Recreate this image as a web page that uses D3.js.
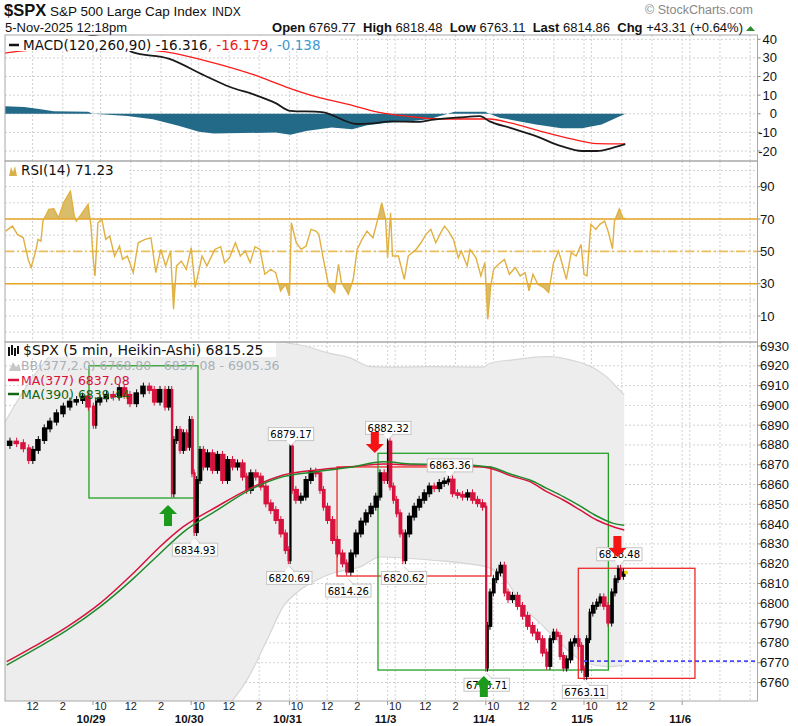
<!DOCTYPE html>
<html>
<head>
<meta charset="utf-8">
<script src="https://cdn.jsdelivr.net/npm/d3@7"></script>
<style>
body { margin: 0; background: #fff; }
svg { display: block; }
text { font-family: "Liberation Sans", Arial, sans-serif; }
.leg { font-family: "DejaVu Sans", Verdana, sans-serif; font-size: 13.5px; }
.pleg { font-family: "DejaVu Sans", Verdana, sans-serif; font-size: 12.5px; }
</style>
</head>
<body>
<script>
const width = 798;
const height = 726;
const plotLeft = 5;
const plotRight = 757.5;

// time is measured in trading days from the 10/29 open (1 day = 9:30-16:00)
const dayLabels = ['10/29', '10/30', '10/31', '11/3', '11/4', '11/5', '11/6'];
const hourTicks = [[0.0769, '10'], [0.3846, '12'], [0.6923, '2']];

const macdTicks = [40, 30, 20, 10, 0, -10, -20];
const rsiTicks = [90, 70, 50, 30, 10];
const priceTicks = d3.range(6760, 6931, 10);

// MACD(120,260,90): [time, value]
const macdLine = [[-0.9, 48], [0, 42], [0.3, 37], [0.4, 33.1], [0.77, 29.6], [1.13, 20.7], [1.39, 14.5],
    [1.65, 10.1], [1.86, 5.7], [2.01, 1.6], [2.33, 0.9], [2.69, -5.5], [2.84, -5.2], [3.05, -4.1],
    [3.31, -4.4], [3.47, -3.2], [3.73, -2.0], [3.94, -1.3], [4.04, -4.1], [4.25, -7.6], [4.51, -12],
    [4.77, -17.4], [4.98, -20], [5.13, -20], [5.29, -18.3], [5.42, -16.3]];
const signalLine = [[-0.9, 32.5], [-0.74, 33.6], [0, 36], [0.5, 34.5], [0.77, 33], [1.13, 28.7],
    [1.65, 20.7], [1.96, 14.5], [2.27, 9.2], [2.59, 5.2], [2.9, 0.9], [3.21, -1.4], [3.52, -2.8],
    [3.83, -2.8], [4.04, -2.8], [4.25, -4.9], [4.56, -9.4], [4.87, -13.5], [5.13, -16], [5.42, -16.2]];
const histValues = [[-0.9, 4.1], [-0.7, 3.6], [-0.55, 2.5], [-0.4, 1.4], [-0.05, 1.1], [0, 0], [0.35, -1.2],
    [0.61, -3.0], [0.87, -6.5], [1.08, -9.6], [1.23, -10.6], [1.86, -10.1], [2.01, -11.3], [2.17, -9.2],
    [2.43, -7.4], [2.64, -8.3], [2.79, -6.2], [3.0, -4.8], [3.21, -4.2], [3.42, -3.0], [3.57, -0.7],
    [3.68, 1.1], [3.99, 1.1], [4.04, 0], [4.14, -2.1], [4.51, -5.7], [4.77, -7.8], [4.98, -7.8],
    [5.18, -5.7], [5.42, 0]];

// RSI(14): [time, value]
const rsiValues = [[-0.89, 62.5], [-0.82, 65.6], [-0.77, 60.5], [-0.71, 58.4], [-0.66, 45], [-0.63, 40],
    [-0.58, 51], [-0.56, 57.4], [-0.53, 56.4], [-0.51, 68.7], [-0.45, 76], [-0.40, 76.3], [-0.35, 70.8],
    [-0.30, 80], [-0.23, 87.2], [-0.19, 71.8], [-0.17, 68.7], [-0.12, 72.8], [-0.05, 79], [-0.02, 65.6],
    [0.00, 47], [0.02, 34.8], [0.05, 67.7], [0.09, 69.8], [0.13, 57.4], [0.17, 59.5], [0.22, 47],
    [0.27, 53.3], [0.30, 45], [0.35, 47], [0.41, 36.8], [0.46, 55.3], [0.53, 57.4], [0.59, 58.4],
    [0.64, 36.8], [0.69, 51.2], [0.74, 41], [0.79, 50.2], [0.82, 14.2], [0.85, 41], [0.90, 44],
    [0.95, 38.9], [1.00, 52.3], [1.04, 27.6], [1.11, 47.1], [1.16, 41], [1.24, 51.2], [1.30, 52.9],
    [1.34, 43], [1.39, 46], [1.45, 55.3], [1.50, 47.1], [1.55, 50.2], [1.60, 43], [1.65, 52.9],
    [1.70, 51.2], [1.75, 35.8], [1.81, 38.9], [1.86, 36.8], [1.91, 25.5], [1.96, 29.6], [2.00, 22.4],
    [2.02, 67.7], [2.07, 55.3], [2.12, 51.2], [2.17, 53.3], [2.22, 63.6], [2.27, 62.5], [2.30, 60.5],
    [2.34, 47.1], [2.40, 28.6], [2.46, 24.5], [2.50, 42], [2.53, 30.7], [2.60, 23.5], [2.65, 32.7],
    [2.69, 51.2], [2.74, 57.4], [2.79, 62.5], [2.85, 58.4], [2.90, 69.8], [2.94, 80], [2.98, 69.8],
    [3.00, 46], [3.03, 73.9], [3.05, 47.1], [3.11, 47.1], [3.17, 32.7], [3.21, 47.1], [3.29, 51.2],
    [3.34, 55.3], [3.39, 60.5], [3.44, 63.6], [3.49, 55.3], [3.55, 62.5], [3.58, 65.6], [3.62, 62.5],
    [3.67, 57.4], [3.72, 46], [3.75, 50.2], [3.81, 41], [3.84, 51.2], [3.90, 46], [3.95, 34.8],
    [3.99, 43], [4.02, 8], [4.05, 28.6], [4.08, 38.9], [4.13, 42], [4.19, 45], [4.24, 35.8], [4.30, 40],
    [4.35, 34.8], [4.40, 36.8], [4.44, 25.5], [4.48, 35.8], [4.53, 29.6], [4.59, 27.6], [4.64, 24.5],
    [4.69, 43], [4.74, 50.2], [4.77, 44], [4.82, 32.7], [4.87, 49.2], [4.92, 47.1], [4.97, 54.3],
    [5.00, 35.8], [5.03, 34.8], [5.07, 66.7], [5.12, 63.6], [5.16, 66.7], [5.21, 68.7], [5.25, 61.5],
    [5.29, 51.6], [5.31, 68.7], [5.36, 76.3], [5.40, 70.2], [5.42, 70.6]];

// $SPX 5 min Heikin-Ashi closes: [time, close]
const priceBars = [[-0.879, 6880.0], [-0.812, 6881.7], [-0.743, 6880.9], [-0.675, 6878.3], [-0.634, 6872.4],
    [-0.591, 6877.5], [-0.522, 6882.5], [-0.471, 6888.4], [-0.404, 6891.8], [-0.336, 6896.0],
    [-0.268, 6899.4], [-0.201, 6901.9], [-0.132, 6902.7], [-0.081, 6904.4], [-0.013, 6899.4],
    [0.020, 6890.2], [0.038, 6901.9], [0.105, 6903.6], [0.173, 6905.3], [0.241, 6904.4], [0.292, 6908.7],
    [0.343, 6905.3], [0.410, 6901.1], [0.479, 6906.1], [0.547, 6909.5], [0.598, 6907.8], [0.649, 6901.9],
    [0.716, 6907.8], [0.751, 6899.4], [0.791, 6907.8], [0.812, 6855.6], [0.835, 6882.5], [0.869, 6887.6],
    [0.903, 6877.5], [0.937, 6885.9], [0.970, 6879.1], [0.995, 6892.6], [1.021, 6865.7], [1.039, 6836.0],
    [1.072, 6862.3], [1.107, 6877.5], [1.141, 6869.1], [1.191, 6875.8], [1.242, 6867.4], [1.293, 6875.0],
    [1.344, 6862.3], [1.395, 6872.4], [1.446, 6869.1], [1.497, 6870.7], [1.548, 6864.0], [1.581, 6857.3],
    [1.632, 6865.7], [1.683, 6864.0], [1.734, 6859.0], [1.785, 6850.5], [1.836, 6847.1], [1.887, 6842.1],
    [1.938, 6835.3], [1.979, 6826.9], [1.999, 6821.8], [2.016, 6879.2], [2.040, 6857.3], [2.091, 6852.3],
    [2.142, 6853.9], [2.192, 6862.3], [2.243, 6866.5], [2.294, 6865.7], [2.329, 6857.3], [2.363, 6848.8],
    [2.413, 6842.1], [2.464, 6832.0], [2.515, 6825.2], [2.566, 6820.2], [2.600, 6816.0], [2.651, 6825.2],
    [2.702, 6835.3], [2.753, 6841.3], [2.803, 6845.5], [2.854, 6848.8], [2.905, 6853.9], [2.940, 6865.7],
    [2.991, 6862.3], [3.007, 6881.7], [3.042, 6859.0], [3.075, 6852.3], [3.109, 6845.5], [3.144, 6835.3],
    [3.167, 6821.8], [3.195, 6835.3], [3.245, 6843.8], [3.296, 6848.8], [3.347, 6852.3], [3.398, 6855.6],
    [3.449, 6859.0], [3.500, 6858.2], [3.551, 6860.8], [3.602, 6861.6], [3.635, 6862.5], [3.686, 6855.6],
    [3.737, 6854.8], [3.788, 6853.9], [3.839, 6855.6], [3.890, 6852.3], [3.941, 6850.6], [3.992, 6848.8],
    [4.009, 6767.5], [4.025, 6788.6], [4.060, 6805.5], [4.094, 6812.2], [4.127, 6815.6], [4.172, 6819.0],
    [4.206, 6805.5], [4.246, 6802.1], [4.297, 6803.8], [4.348, 6798.7], [4.399, 6793.7], [4.450, 6788.6],
    [4.501, 6785.2], [4.552, 6781.9], [4.603, 6775.1], [4.636, 6768.4], [4.671, 6781.9], [4.705, 6785.2],
    [4.739, 6783.5], [4.773, 6773.4], [4.807, 6767.5], [4.840, 6771.7], [4.885, 6780.2], [4.926, 6781.9],
    [4.959, 6778.5], [4.993, 6766.7], [5.010, 6763.3], [5.044, 6781.9], [5.068, 6795.3], [5.112, 6798.7],
    [5.146, 6800.4], [5.180, 6803.0], [5.224, 6798.7], [5.265, 6790.3], [5.298, 6805.5], [5.333, 6812.2],
    [5.360, 6817.3], [5.384, 6813.9], [5.418, 6815.6]];

const ma377 = [[-0.879, 6770.5], [-0.608, 6778], [-0.268, 6788], [0.071, 6800], [0.410, 6815.2],
    [0.682, 6828.6], [0.920, 6838.7], [1.260, 6848.8], [1.599, 6858.1], [1.938, 6864.8], [2.278, 6867.4],
    [2.617, 6869], [2.956, 6870.4], [3.262, 6869.9], [3.602, 6869.9], [3.941, 6869.1], [4.043, 6868.2],
    [4.280, 6864], [4.450, 6861.5], [4.620, 6856.4], [4.789, 6852.2], [4.959, 6847.2], [5.129, 6842.1],
    [5.298, 6838.7], [5.410, 6837.08]];
const ma390 = [[-0.879, 6768.8], [-0.608, 6776.4], [-0.268, 6786.3], [0.071, 6798.2], [0.410, 6812.5],
    [0.682, 6825.2], [0.920, 6836], [1.260, 6847], [1.599, 6857.3], [1.938, 6864], [2.278, 6866.5],
    [2.617, 6868.7], [2.956, 6871.5], [3.262, 6870.4], [3.602, 6870.2], [3.941, 6869.4], [4.043, 6868.9],
    [4.280, 6864.8], [4.450, 6862.3], [4.620, 6858.1], [4.789, 6853.9], [4.959, 6849.2], [5.129, 6844.1],
    [5.298, 6840.4], [5.410, 6839.44]];

// Bollinger Bands(377,2.0)
const bbUpper = [[-0.896, 6891.6], [-0.611, 6914.4], [-0.407, 6926.5], [-0.265, 6931.5], [0.071, 6934],
    [1.09, 6935], [2.108, 6930.5], [2.413, 6926.3], [2.617, 6924], [2.821, 6919.6], [3.093, 6919.3],
    [3.432, 6919.6], [3.971, 6919.3], [4.043, 6921.3], [4.277, 6923], [4.623, 6924.6], [4.857, 6923],
    [5.132, 6917.9], [5.265, 6912.9], [5.33, 6909.3], [5.41, 6905.36]];
const bbLower = [[-0.896, 6648], [0.071, 6666], [1.09, 6735], [1.39, 6749], [1.568, 6761.3], [1.772, 6781.5],
    [1.935, 6798.2], [2.108, 6806.7], [2.281, 6811.8], [2.444, 6815.3], [2.719, 6818.4], [2.923, 6823.4],
    [3.432, 6821.9], [4.012, 6818.4], [4.216, 6811], [4.379, 6798.3], [4.552, 6790], [4.725, 6781.5],
    [4.888, 6774], [5.031, 6769.7], [5.234, 6768], [5.41, 6768.8]];

// annotations
const peakLabels = [[2.016, 6879.17, 'up'], [1.039, 6834.93, 'down'], [1.999, 6820.69, 'down'],
    [2.600, 6814.26, 'down'], [3.007, 6882.32, 'up'], [3.635, 6863.36, 'up'], [3.167, 6820.62, 'down'],
    [4.009, 6766.71, 'down'], [5.010, 6763.11, 'down'], [5.360, 6818.48, 'up']];
const signalArrows = [[0.764, 6849.7, 'buy'], [3.98, 6763.3, 'buy'], [2.87, 6876, 'sell'], [5.34, 6823.4, 'sell']];
const boxes = [[-0.041, 1.069, 6920, 6853.2, 'green'], [2.485, 4.053, 6868.9, 6813.8, 'red'],
    [2.902, 5.248, 6875.8, 6766.3, 'green'], [4.942, 6.13, 6817.7, 6762.1, 'red']];
const supportLevel = [4.99, 6770.8];

const red = '#d7123d';
const maGreen = '#1f8a2a';

const x = d3.scaleLinear().domain([0, 6]).range([93, 682.2]);

const macdPanel = { top: 35, bottom: 161 };
const rsiPanel = { top: 161, bottom: 342 };
const pricePanel = { top: 342, bottom: 701 };

const macdY = d3.scaleLinear().domain([-20, 40]).range([151, 39.3]);
const rsiY = d3.scaleLinear().domain([10, 90]).range([316, 186.7]);
const priceY = d3.scaleLinear().domain([6760, 6930]).range([682.5, 346]);

const svg = d3.select('body')
    .append('svg')
    .attr('width', width)
    .attr('height', height);

svg.append('rect').attr('width', width).attr('height', height).attr('fill', '#fff');

const defs = svg.append('defs');
function clip(id, top, bottom) {
    defs.append('clipPath').attr('id', id)
        .append('rect')
        .attr('x', plotLeft).attr('y', top)
        .attr('width', plotRight - plotLeft).attr('height', bottom - top);
    return 'url(#' + id + ')';
}
const macdClip = clip('macdClip', macdPanel.top, macdPanel.bottom);
const rsiClip = clip('rsiClip', rsiPanel.top, rsiPanel.bottom);
const priceClip = clip('priceClip', pricePanel.top, pricePanel.bottom);
clip('rsiHigh', rsiPanel.top, rsiY(70));
clip('rsiLow', rsiY(30), rsiPanel.bottom);

// vertical grid times
const gridTimes = [];
for (let d = -1; d <= 6; d++) {
    gridTimes.push(d);
    hourTicks.forEach(h => gridTimes.push(d + h[0]));
}

function drawGrid(panel, yScale, values) {
    const g = svg.append('g');
    g.selectAll('.vg')
        .data(gridTimes.filter(t => x(t) > plotLeft + 1 && x(t) < plotRight - 1))
        .enter()
        .append('line')
        .attr('x1', d => x(d)).attr('x2', d => x(d))
        .attr('y1', panel.top).attr('y2', panel.bottom)
        .attr('stroke', '#d2d2d2')
        .attr('stroke-dasharray', '2,2');
    g.selectAll('.hg')
        .data(values)
        .enter()
        .append('line')
        .attr('x1', plotLeft).attr('x2', plotRight)
        .attr('y1', d => yScale(d)).attr('y2', d => yScale(d))
        .attr('stroke', '#d2d2d2')
        .attr('stroke-dasharray', '2,2');
}

drawGrid(macdPanel, macdY, d3.range(-20, 41, 10));
drawGrid(rsiPanel, rsiY, d3.range(0, 101, 10));
drawGrid(pricePanel, priceY, priceTicks);

// ---------- MACD ----------
const macdG = svg.append('g').attr('clip-path', macdClip);

macdG.append('path')
    .datum(histValues)
    .attr('d', d3.area().x(d => x(d[0])).y0(macdY(0)).y1(d => macdY(d[1])))
    .attr('fill', '#236a89');

macdG.append('path')
    .datum(signalLine)
    .attr('d', d3.line().curve(d3.curveMonotoneX).x(d => x(d[0])).y(d => macdY(d[1])))
    .attr('fill', 'none')
    .attr('stroke', '#ff1a1a')
    .attr('stroke-width', 1.3);

macdG.append('path')
    .datum(macdLine)
    .attr('d', d3.line().curve(d3.curveMonotoneX).x(d => x(d[0])).y(d => macdY(d[1])))
    .attr('fill', 'none')
    .attr('stroke', '#1a1a1a')
    .attr('stroke-width', 1.8);

// ---------- RSI ----------
const rsiG = svg.append('g').attr('clip-path', rsiClip);
const rsiLine = d3.line().x(d => x(d[0])).y(d => rsiY(d[1]));

rsiG.append('path')
    .datum(rsiValues)
    .attr('clip-path', 'url(#rsiHigh)')
    .attr('d', d3.area().x(d => x(d[0])).y0(rsiY(70)).y1(d => rsiY(d[1])))
    .attr('fill', '#d9bd6a');
rsiG.append('path')
    .datum(rsiValues)
    .attr('clip-path', 'url(#rsiLow)')
    .attr('d', d3.area().x(d => x(d[0])).y0(rsiY(30)).y1(d => rsiY(d[1])))
    .attr('fill', '#d9bd6a');

[70, 30].forEach(v => {
    rsiG.append('line')
        .attr('x1', plotLeft).attr('x2', plotRight)
        .attr('y1', rsiY(v)).attr('y2', rsiY(v))
        .attr('stroke', '#e6a626').attr('stroke-width', 1.6);
});
rsiG.append('line')
    .attr('x1', plotLeft).attr('x2', plotRight)
    .attr('y1', rsiY(50)).attr('y2', rsiY(50))
    .attr('stroke', '#ecbf5c').attr('stroke-width', 1.6)
    .attr('stroke-dasharray', '9,3,2,3');

rsiG.append('path')
    .datum(rsiValues)
    .attr('d', rsiLine)
    .attr('fill', 'none')
    .attr('stroke', '#e0b040')
    .attr('stroke-width', 1.4);

// ---------- Price ----------
const priceG = svg.append('g').attr('clip-path', priceClip);

const bbShape = bbUpper.concat(bbLower.slice().reverse());
priceG.append('path')
    .datum(bbShape)
    .attr('d', d3.line().x(d => x(d[0])).y(d => priceY(d[1])) )
    .attr('fill', '#ededed');
[bbUpper, bbLower].forEach(band => {
    priceG.append('path')
        .datum(band)
        .attr('d', d3.line().curve(d3.curveMonotoneX).x(d => x(d[0])).y(d => priceY(d[1])))
        .attr('fill', 'none')
        .attr('stroke', '#d6d6d6')
        .attr('stroke-width', 1.2);
});

priceG.selectAll('.box')
    .data(boxes)
    .enter()
    .append('rect')
    .attr('x', d => x(d[0]))
    .attr('y', d => priceY(d[2]))
    .attr('width', d => x(d[1]) - x(d[0]))
    .attr('height', d => priceY(d[3]) - priceY(d[2]))
    .attr('fill', 'none')
    .attr('stroke', d => d[4] === 'green' ? '#25a025' : '#f02828')
    .attr('stroke-width', 1.3);

// Heikin-Ashi candles: open at the previous close
const candles = priceBars.slice(1).map((d, i) => ({
    t0: priceBars[i][0], t: d[0], open: priceBars[i][1], close: d[1]
}));

priceG.selectAll('.wick')
    .data(candles)
    .enter()
    .append('line')
    .attr('x1', d => (x(d.t0) + x(d.t)) / 2)
    .attr('x2', d => (x(d.t0) + x(d.t)) / 2)
    .attr('y1', d => priceY(Math.max(d.open, d.close) + 2))
    .attr('y2', d => priceY(Math.min(d.open, d.close) - 2))
    .attr('stroke', d => d.close >= d.open ? '#000' : red)
    .attr('stroke-width', 1);

priceG.selectAll('.body')
    .data(candles)
    .enter()
    .append('rect')
    .attr('x', d => x(d.t0) + 0.2)
    .attr('width', d => Math.max(1.8, Math.min(5.5, x(d.t) - x(d.t0) + 0.4)))
    .attr('y', d => priceY(Math.max(d.open, d.close)) - 1)
    .attr('height', d => Math.abs(priceY(d.open) - priceY(d.close)) + 2)
    .attr('fill', d => d.close >= d.open ? '#000' : red);

[[ma377, red], [ma390, maGreen]].forEach(m => {
    priceG.append('path')
        .datum(m[0])
        .attr('d', d3.line().curve(d3.curveMonotoneX).x(d => x(d[0])).y(d => priceY(d[1])))
        .attr('fill', 'none')
        .attr('stroke', m[1])
        .attr('stroke-width', 1.5);
});

priceG.append('line')
    .attr('x1', x(supportLevel[0])).attr('x2', plotRight)
    .attr('y1', priceY(supportLevel[1])).attr('y2', priceY(supportLevel[1]))
    .attr('stroke', '#4848ff').attr('stroke-width', 1.6)
    .attr('stroke-dasharray', '4,3');

const last = priceBars[priceBars.length - 1];
priceG.append('circle')
    .attr('cx', x(last[0]) + 1).attr('cy', priceY(last[1]))
    .attr('r', 2).attr('fill', '#f2d200');

// peak / trough labels
const labelG = svg.append('g');
peakLabels.forEach(d => {
    const cx = x(d[0]);
    const py = priceY(d[1]);
    const up = d[2] === 'up';
    const boxH = 13;
    const boxTop = up ? py - 6 - boxH : py + 9;
    const g = labelG.append('g');
    const txt = g.append('text')
        .attr('x', cx).attr('y', boxTop + 10.5)
        .attr('text-anchor', 'middle')
        .style('font-family', '"DejaVu Sans", Verdana, sans-serif')
        .style('font-size', '10px')
        .text(d[1].toFixed(2));
    const w = txt.node().getComputedTextLength() + 4;
    g.insert('rect', 'text')
        .attr('x', cx - w / 2).attr('y', boxTop)
        .attr('width', w).attr('height', boxH)
        .attr('fill', '#fff').attr('stroke', '#c4c4c4');
    const tip = up
        ? [[cx - 5, boxTop + boxH], [cx + 5, boxTop + boxH], [cx, boxTop + boxH + 5]]
        : [[cx - 5, boxTop], [cx + 5, boxTop], [cx, boxTop - 5]];
    g.insert('path', 'text')
        .attr('d', 'M' + tip.join('L'))
        .attr('fill', '#fff').attr('stroke', '#c4c4c4');
    g.insert('line', 'text')
        .attr('x1', cx - 4).attr('x2', cx + 4)
        .attr('y1', tip[0][1]).attr('y2', tip[0][1])
        .attr('stroke', '#fff').attr('stroke-width', 1.5);
});

// signal arrows
signalArrows.forEach(d => {
    const ax = x(d[0]);
    const ay = priceY(d[1]);
    const s = d[2] === 'buy' ? 1 : -1;
    const pts = [[0, 0], [9, 9], [4, 9], [4, 21], [-4, 21], [-4, 9], [-9, 9]]
        .map(p => [ax + p[0], ay + s * p[1]]);
    svg.append('path')
        .attr('d', 'M' + pts.join('L') + 'Z')
        .attr('fill', d[2] === 'buy' ? '#1c9a1c' : '#f41414');
});

// ---------- panel borders ----------
[macdPanel, rsiPanel, pricePanel].forEach(p => {
    svg.append('rect')
        .attr('x', plotLeft).attr('y', p.top)
        .attr('width', plotRight - plotLeft).attr('height', p.bottom - p.top)
        .attr('fill', 'none').attr('stroke', '#a8a8a8');
});

// ---------- right axes ----------
function rightAxis(values, yScale, anchorRight) {
    const g = svg.append('g');
    values.forEach(v => {
        g.append('line')
            .attr('x1', plotRight).attr('x2', plotRight + 3)
            .attr('y1', yScale(v)).attr('y2', yScale(v))
            .attr('stroke', '#888');
        g.append('text')
            .attr('x', anchorRight ? 777 : 760)
            .attr('y', yScale(v) + 4.5)
            .attr('text-anchor', anchorRight ? 'end' : 'start')
            .style('font-size', '13px')
            .attr('fill', '#111')
            .text(v);
    });
}
rightAxis(macdTicks, macdY, true);
rightAxis(rsiTicks, rsiY, false);
rightAxis(priceTicks, priceY, false);

// ---------- x axis ----------
const xAxisG = svg.append('g');
for (let d = -1; d <= 6; d++) {
    hourTicks.forEach(h => {
        const t = d + h[0];
        if (x(t) < 20 || t > 5.75) return;
        xAxisG.append('text')
            .attr('x', x(t)).attr('y', 709.5)
            .attr('text-anchor', 'middle')
            .style('font-size', '11px')
            .attr('fill', '#222')
            .text(h[1]);
    });
    if (d >= 0) {
        xAxisG.append('line')
            .attr('x1', x(d)).attr('x2', x(d))
            .attr('y1', pricePanel.bottom).attr('y2', pricePanel.bottom + 4)
            .attr('stroke', '#999');
        xAxisG.append('text')
            .attr('x', x(d) - 2).attr('y', 723.3)
            .attr('text-anchor', 'middle')
            .style('font-size', '11.5px')
            .style('font-weight', 'bold')
            .attr('fill', '#111')
            .text(dayLabels[d]);
    }
}

// ---------- legends ----------
svg.append('rect').attr('x', plotLeft + 1).attr('y', 36).attr('width', 335).attr('height', 15).attr('fill', '#fff');
svg.append('line').attr('x1', 9).attr('x2', 19).attr('y1', 45).attr('y2', 45).attr('stroke', '#111').attr('stroke-width', 2.5);
const macdLeg = svg.append('text').attr('class', 'leg').attr('x', 23).attr('y', 49.5);
macdLeg.append('tspan').attr('fill', '#111').text('MACD(120,260,90) -16.316');
macdLeg.append('tspan').attr('fill', '#f01a1a').text(', -16.179');
macdLeg.append('tspan').attr('fill', '#3d9ad1').text(', -0.138');

svg.append('rect').attr('x', plotLeft + 1).attr('y', 162).attr('width', 122).attr('height', 15).attr('fill', '#fff');
svg.append('path').attr('d', 'M9,176 L11,167 L13,172 L15,166 L17,176 Z').attr('fill', '#d9b04a');
svg.append('text').attr('class', 'leg').attr('x', 21).attr('y', 175).attr('fill', '#111').text('RSI(14) 71.23');

svg.append('rect').attr('x', plotLeft + 1).attr('y', 343).attr('width', 270).attr('height', 14).attr('fill', '#fff');
svg.append('path').attr('d', 'M9,347 V356 M12,345 V355 M15,348 V356 M18,346 V354').attr('stroke', '#111').attr('stroke-width', 2);
svg.append('text').attr('class', 'leg').attr('x', 23).attr('y', 355).style('font-size', '14px').attr('fill', '#111').text('$SPX (5 min, Heikin-Ashi) 6815.25');
svg.append('path').attr('d', 'M9,371 L13,362 L16,367 L19,364 L21,371 Z').attr('fill', '#c8c8c8');
svg.append('text').attr('class', 'pleg').attr('x', 21).attr('y', 370).attr('fill', '#a8b0b8').text('BB(377,2.0) 6768.80 - 6837.08 - 6905.36');
svg.append('line').attr('x1', 8).attr('x2', 19).attr('y1', 380).attr('y2', 380).attr('stroke', red).attr('stroke-width', 2.5);
svg.append('text').attr('class', 'pleg').attr('x', 21).attr('y', 384.5).attr('fill', red).text('MA(377) 6837.08');
svg.append('line').attr('x1', 8).attr('x2', 19).attr('y1', 394).attr('y2', 394).attr('stroke', '#116611').attr('stroke-width', 2.5);
svg.append('text').attr('class', 'pleg').attr('x', 21).attr('y', 398.5).attr('fill', '#116611').text('MA(390) 6839.44');

// ---------- header ----------
svg.append('text').attr('x', 4).attr('y', 16)
    .style('font-size', '16.5px').style('font-weight', 'bold').attr('fill', '#111').text('$SPX');
svg.append('text').attr('x', 50).attr('y', 16)
    .style('font-size', '13.5px').attr('fill', '#111').text('S&P 500 Large Cap Index');
svg.append('text').attr('x', 212).attr('y', 16)
    .style('font-size', '12px').attr('fill', '#111').text('INDX');
svg.append('text').attr('x', 645).attr('y', 14)
    .style('font-size', '12.5px').attr('fill', '#888').text('\u00a9 StockCharts.com');
svg.append('text').attr('x', 5).attr('y', 31.5)
    .style('font-size', '13px').attr('fill', '#111').text('5-Nov-2025 12:18pm');

const stats = [['Open', '6769.77'], ['High', '6818.48'], ['Low', '6763.11'], ['Last', '6814.86'], ['Chg', '+43.31 (+0.64%)']];
const statText = svg.append('text').attr('x', 743).attr('y', 31.5)
    .attr('text-anchor', 'end').style('font-size', '13px').attr('fill', '#111');
stats.forEach((s, i) => {
    statText.append('tspan').style('font-weight', 'bold').text((i ? '  ' : '') + s[0] + ' ');
    statText.append('tspan').text(s[1]);
});
statText.attr('xml:space', 'preserve');
svg.append('path').attr('d', 'M746,31 L750.5,26 L755,31 Z').attr('fill', '#2e8b2e');
</script>
</body>
</html>
